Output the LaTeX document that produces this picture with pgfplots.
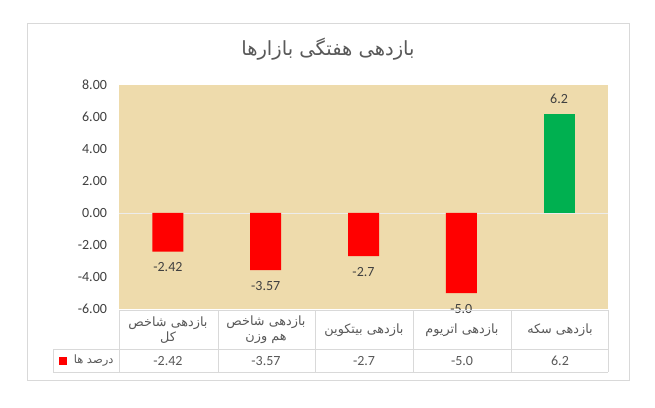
\documentclass[border=0pt]{standalone}
\usepackage{fontspec}
\usepackage{pgfplots}
\pgfplotsset{compat=1.18}
\setmainfont{Carlito}
\newfontfamily\arabicfont[Script=Arabic]{DejaVu Sans}
\TeXXeTstate=1
\definecolor{papyrus}{RGB}{238,219,172}
\definecolor{txt}{RGB}{89,89,89}
\definecolor{lab}{RGB}{64,64,64}
\definecolor{gridc}{RGB}{217,217,217}
\definecolor{barred}{RGB}{255,0,0}
\definecolor{bargreen}{RGB}{0,176,80}
\begin{document}
\begin{tikzpicture}[x=1pt,y=1pt]
\fill[white] (0,0) rectangle (655,407);
\draw[gridc] (27,384) rectangle (629,27);
\node[txt, font={\arabicfont\fontsize{19.5}{22}\selectfont}] at (328,358) {\beginR بازدهی هفتگی بازارها\endR};
\begin{axis}[at={(119pt,98pt)}, anchor=south west, scale only axis,
  width=489pt, height=224pt,
  xmin=0.5, xmax=5.5, ymin=-6, ymax=8,
  axis line style={draw=none},
  ytick={-6,-4,-2,0,2,4,6,8},
  yticklabels={-6.00,-4.00,-2.00,0.00,2.00,4.00,6.00,8.00},
  xtick=\empty, major tick length=0pt,
  yticklabel style={font=\fontsize{14}{16}\selectfont, text=lab, anchor=east, xshift=-8.5pt},
  axis background/.style={fill=papyrus},
  ybar, bar width=31pt, bar shift=0pt, clip=false]
\draw[white!85!gray, line width=0.8pt] (axis cs:0.5,0) -- (axis cs:5.5,0);
\addplot[fill=barred, draw=none, nodes near coords, point meta=explicit symbolic,
  every node near coord/.append style={anchor=north, yshift=-7.5pt, text=lab, font=\fontsize{14}{16}\selectfont}]
  table[meta=lab] {
x y lab
1 -2.42 -2.42
2 -3.57 -3.57
3 -2.7 -2.7
4 -5.0 -5.0
};
\addplot[fill=bargreen, draw=none, nodes near coords, point meta=explicit symbolic,
  every node near coord/.append style={anchor=south, yshift=7pt, text=lab, font=\fontsize{14}{16}\selectfont}]
  table[meta=lab] {
x y lab
5 6.2 6.2
};
\end{axis}
% data table
\draw[gridc] (119,97) -- (608,97);
\draw[gridc] (53,58) -- (608,58);
\draw[gridc] (53,35) -- (608,35);
\draw[gridc] (53,58) -- (53,35);
\foreach \xx in {119,218,315,413,511,608} \draw[gridc] (\xx,97) -- (\xx,35);
\begin{scope}[every node/.style={text=txt, font={\arabicfont\fontsize{12.8}{15}\selectfont}, align=center}]
\node at (168,77) {\beginR بازدهی شاخص\endR\\\beginR کل\endR};
\node at (266,77) {\beginR بازدهی  شاخص\endR\\\beginR هم وزن\endR};
\node at (364,77) {\beginR بازدهی بیتکوین\endR};
\node at (462,77) {\beginR بازدهی اتریوم\endR};
\node at (560,77) {\beginR بازدهی سکه\endR};
\node[anchor=east, font={\arabicfont\fontsize{11.5}{13}\selectfont}] at (117,46) {\beginR درصد ها\endR};
\end{scope}
\fill[barred] (59,42) rectangle (67,50);
\begin{scope}[every node/.style={text=txt, font=\fontsize{14}{16}\selectfont}]
\node at (168,46) {-2.42};
\node at (266,46) {-3.57};
\node at (364,46) {-2.7};
\node at (462,46) {-5.0};
\node at (560,46) {6.2};
\end{scope}
\end{tikzpicture}
\end{document}
